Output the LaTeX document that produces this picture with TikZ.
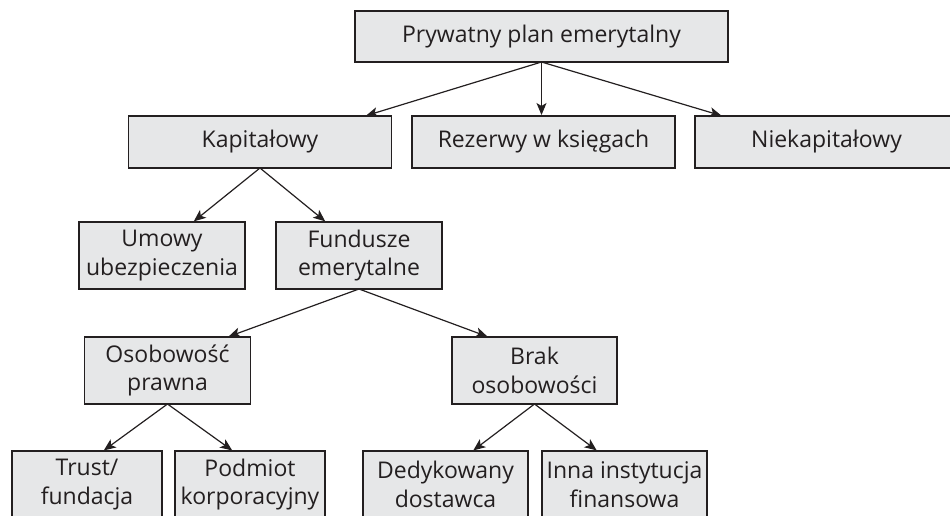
\documentclass[tikz,border=0pt]{standalone}
\usepackage{fontspec}
\setmainfont{Open Sans}
\usepackage{tikz}
\usetikzlibrary{arrows.meta,positioning}
\definecolor{boxgray}{HTML}{E6E7E8}
\definecolor{ink}{HTML}{231F20}
\tikzset{
    plan/.style={rectangle, draw=ink, fill=boxgray, line width=1.4pt, inner sep=0pt, outer sep=0pt,
        align=center, text=ink, font=\fontsize{23}{28.5}\selectfont},
    wide/.style={plan, minimum width=263pt, minimum height=52pt},
    mid/.style={plan, minimum width=166pt, minimum height=67pt},
    small/.style={plan, minimum width=150pt, minimum height=67pt},
    arr/.style={draw=ink, line width=1.2pt, -{Stealth[length=12pt,width=10pt,inset=3pt]}},
}
\begin{document}
\begin{tikzpicture}[x=1pt, y=-1pt, shorten >=1pt]
        \useasboundingbox (0,0) rectangle (950,515);
        \clip (0,0) rectangle (950,515);

        % top level
        \node[plan, minimum width=373pt, minimum height=51pt] (top) at (541.5,36.5) {Prywatny plan emerytalny};

        % second row
        \node[wide] (kap)  at (260,142)   {Kapitałowy};
        \node[wide] (rez)  at (543.5,142) {Rezerwy w księgach};
        \node[wide] (niek) at (826.5,142) {Niekapitałowy};

        % funded
        \node[mid] (umowy) at (162,255.5) {Umowy\\ubezpieczenia};
        \node[mid] (fund)  at (359,255.5) {Fundusze\\emerytalne};

        \node[mid] (osob) at (167.5,370.5) {Osobowość\\prawna};
        \node[mid, minimum width=165pt] (brak) at (534.5,370.5) {Brak\\osobowości};

        % bottom row
        \node[small] (trust) at (87,484.5)  {Trust/\\fundacja};
        \node[small] (podm)  at (250,484.5) {Podmiot\\korporacyjny};
        \node[mid, minimum width=165pt] (dedyk) at (445.5,484.5) {Dedykowany\\dostawca};
        \node[mid, minimum width=165pt] (inna)  at (624.5,484.5) {Inna instytucja\\finansowa};

        \foreach \from/\to/\dx in {top/kap/105, top/rez/-2, top/niek/-104, kap/umowy/31, kap/fund/-33,
                fund/osob/60, fund/brak/-46, osob/trust/16, osob/podm/-17, brak/dedyk/27, brak/inna/-27}
            \draw[arr] (\from.south) -- ([xshift=\dx]\to.north);
    \end{tikzpicture}
\end{document}
